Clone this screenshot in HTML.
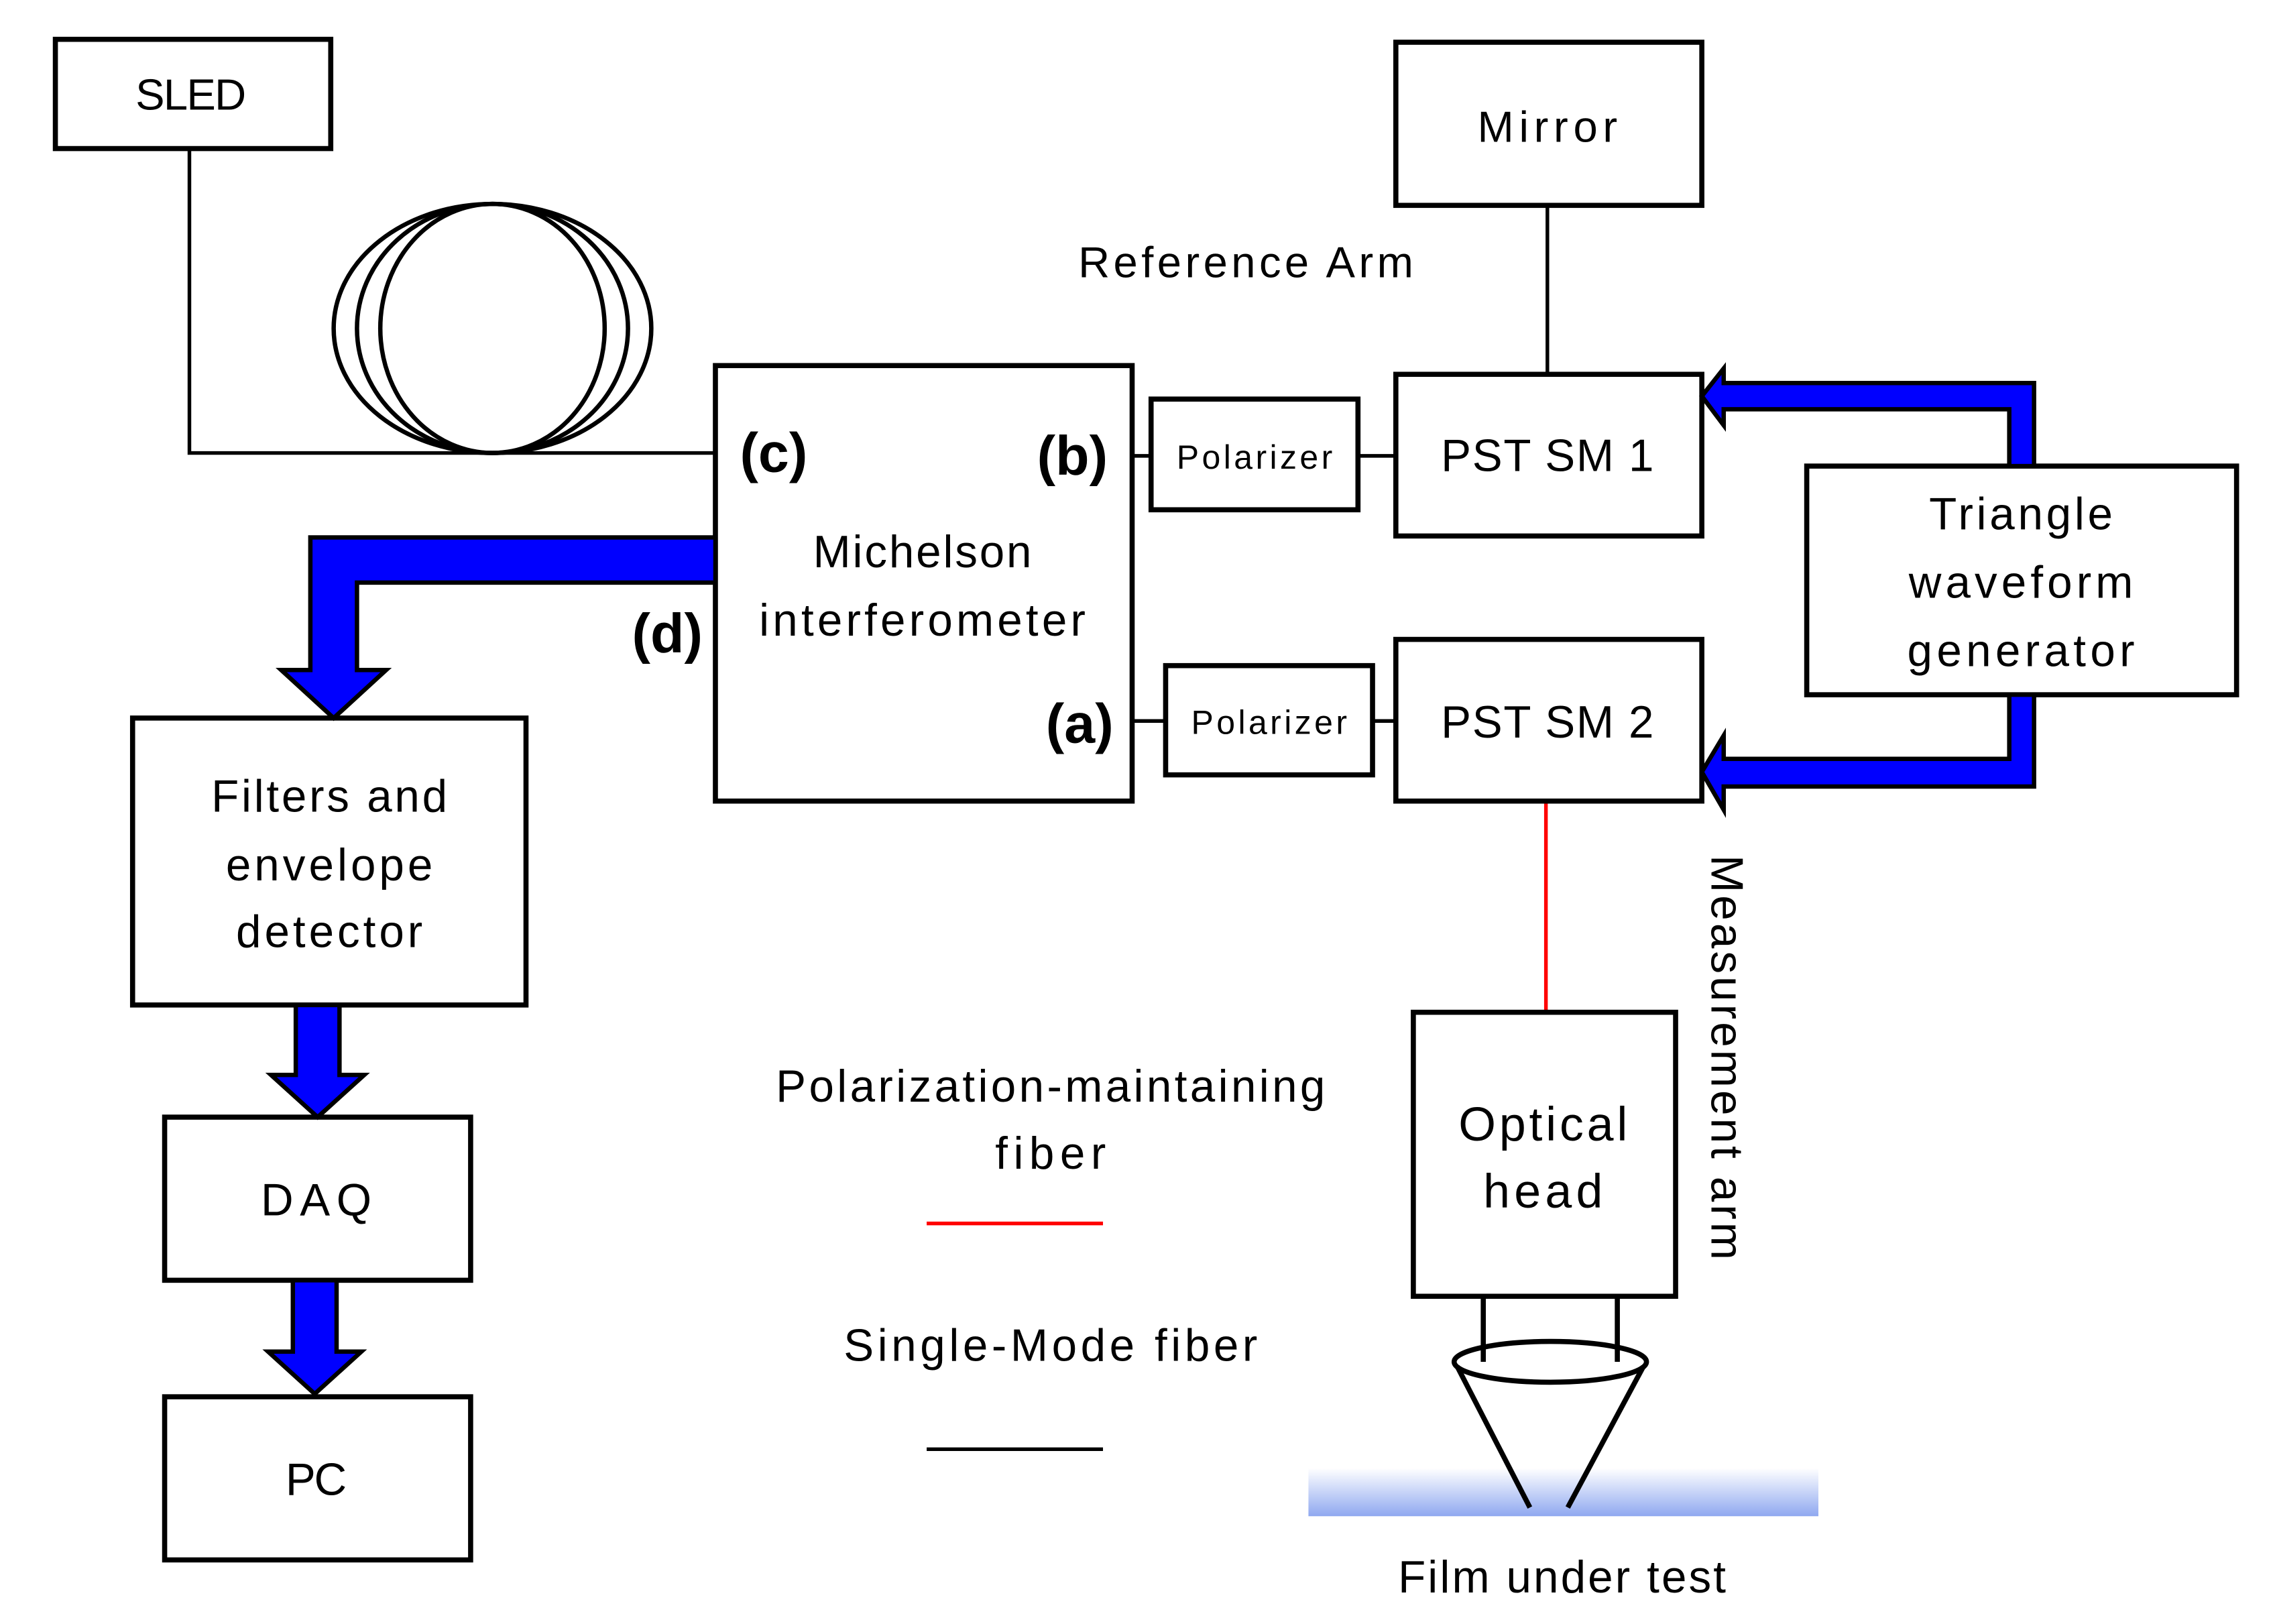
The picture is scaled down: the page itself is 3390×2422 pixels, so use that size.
<!DOCTYPE html>
<html><head><meta charset="utf-8"><style>
html,body{margin:0;padding:0;background:#fff}
svg{display:block}
text{font-family:"Liberation Sans",sans-serif;fill:#000;text-anchor:middle;dominant-baseline:central}
</style></head><body>
<svg width="3390" height="2422" viewBox="0 0 1560 1115" preserveAspectRatio="none" xmlns="http://www.w3.org/2000/svg">
<defs>
<linearGradient id="film" x1="0" y1="0" x2="0" y2="1">
<stop offset="0" stop-color="#ffffff"/><stop offset="1" stop-color="#8fa8f0"/>
</linearGradient>
</defs>
<g fill="none" stroke="#000" stroke-width="2.5">
<polyline points="130,102 130,311 491,311"/>
<line x1="1062" y1="141" x2="1062" y2="257"/>
<line x1="777" y1="313" x2="790" y2="313"/>
<line x1="932" y1="313" x2="958" y2="313"/>
<line x1="777" y1="495" x2="800" y2="495"/>
<line x1="942" y1="495" x2="958" y2="495"/>
<line x1="636" y1="995" x2="757" y2="995"/>
</g>
<g fill="none" stroke="#000" stroke-width="3">
<ellipse cx="338" cy="225.5" rx="109" ry="85.5"/>
<ellipse cx="338" cy="225.5" rx="93" ry="85.5"/>
<ellipse cx="338" cy="225.5" rx="77" ry="85.5"/>
</g>
<g stroke="#ff0000" stroke-width="2.5">
<line x1="1061" y1="550" x2="1061" y2="695"/>
<line x1="636" y1="840" x2="757" y2="840"/>
</g>
<rect x="898" y="1008" width="350" height="33" fill="url(#film)"/>
<g fill="#fff" stroke="#000" stroke-width="3.5">
<rect x="38" y="27" width="189" height="75"/>
<rect x="491" y="251" width="286" height="299"/>
<rect x="91" y="493" width="270" height="197"/>
<rect x="113" y="767" width="210" height="112"/>
<rect x="113" y="959" width="210" height="112"/>
<rect x="790" y="274" width="142" height="76"/>
<rect x="800" y="457" width="142" height="75"/>
<rect x="958" y="29" width="210" height="112"/>
<rect x="958" y="257" width="210" height="111"/>
<rect x="958" y="439" width="210" height="111"/>
<rect x="1240" y="320" width="295" height="157"/>
<rect x="970" y="695" width="180" height="195"/>
</g>
<g fill="#0000ff" stroke="#000" stroke-width="3" stroke-linejoin="miter">
<polygon points="491,369 213,369 213,460 193,460 229,493 265,460 245,460 245,400 491,400"/>
<polygon points="203,690 233,690 233,738 250,738 218,767 186,738 203,738"/>
<polygon points="201,879 231,879 231,928 248,928 216,957 184,928 201,928"/>
<polygon points="1396,320 1396,263 1183,263 1183,253 1168,272 1183,292 1183,281 1379,281 1379,320"/>
<polygon points="1396,477 1396,540 1183,540 1183,556 1168,530 1183,505 1183,521 1379,521 1379,477"/>
</g>
<g fill="none" stroke="#000" stroke-width="3.5">
<line x1="1018" y1="890" x2="1018" y2="935"/>
<line x1="1110" y1="890" x2="1110" y2="935"/>
<ellipse cx="1064" cy="935" rx="66" ry="14"/>
<line x1="1000" y1="938" x2="1050" y2="1035"/>
<line x1="1128" y1="938" x2="1076" y2="1035"/>
</g>
<text x="131" y="65" font-size="30" textLength="76">SLED</text>
<text x="855" y="180" font-size="30" textLength="230">Reference Arm</text>
<text x="1062" y="87" font-size="30" textLength="96">Mirror</text>
<text x="1062" y="313" font-size="31" textLength="146">PST SM 1</text>
<text x="1062" y="496" font-size="31" textLength="146">PST SM 2</text>
<text x="861" y="314" font-size="23" textLength="107">Polarizer</text>
<text x="871" y="496" font-size="23" textLength="107">Polarizer</text>
<g font-size="38" font-weight="bold">
<text x="531" y="311">(c)</text>
<text x="736" y="313">(b)</text>
<text x="458" y="435">(d)</text>
<text x="741" y="497">(a)</text>
</g>
<text x="633" y="379" font-size="31" textLength="150">Michelson</text>
<text x="633" y="426" font-size="31" textLength="224">interferometer</text>
<text x="226" y="547" font-size="31" textLength="162">Filters and</text>
<text x="226" y="594" font-size="31" textLength="142">envelope</text>
<text x="226" y="640" font-size="31" textLength="128">detector</text>
<text x="217" y="824" font-size="31" textLength="76">DAQ</text>
<text x="217" y="1016" font-size="31" textLength="42">PC</text>
<text x="1387" y="353" font-size="31" textLength="126">Triangle</text>
<text x="1387" y="400" font-size="31" textLength="154">waveform</text>
<text x="1387" y="447" font-size="31" textLength="156">generator</text>
<text x="1059" y="772" font-size="33" textLength="116">Optical</text>
<text x="1059" y="818" font-size="33" textLength="82">head</text>
<text x="721" y="746" font-size="31" textLength="377">Polarization-maintaining</text>
<text x="721" y="792" font-size="31" textLength="76">fiber</text>
<text x="721" y="924" font-size="31" textLength="284">Single-Mode fiber</text>
<text x="1072" y="1083" font-size="31" textLength="225">Film under test</text>
<text x="1185" y="726" font-size="31" textLength="278" transform="rotate(90 1185 726)">Measurement arm</text>
</svg>
</body></html>
